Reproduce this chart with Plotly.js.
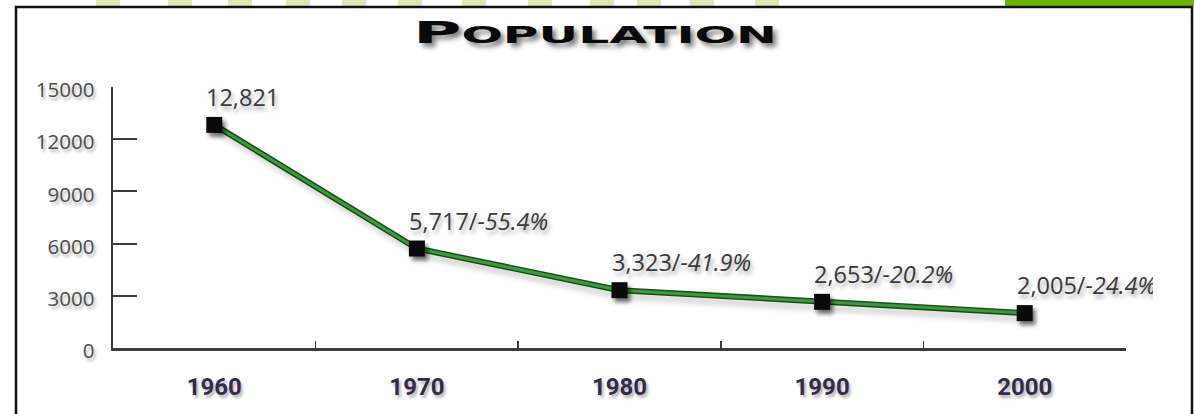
<!DOCTYPE html>
<html>
<head>
<meta charset="utf-8">
<script src="https://cdn.plot.ly/plotly-3.0.1.min.js"></script>
<style>
  html, body { margin: 0; padding: 0; background: #ffffff; }
  #chart { width: 1194px; height: 414px; }
  .scatterlayer .trace:last-child .js-line { filter: drop-shadow(4px 6px 3px rgba(0,0,0,0.35)); }
  .scatterlayer .points path { filter: drop-shadow(3px 4px 2px rgba(0,0,0,0.55)); }
</style>
</head>
<body>
<div id="chart"></div>
<script>
// ---- data ----
const years = ['1960', '1970', '1980', '1990', '2000'];
const population = [12821, 5717, 3323, 2653, 2005];
const changeLabels = ['', '-55.4%', '-41.9%', '-20.2%', '-24.4%'];
const yTickValues = [0, 3000, 6000, 9000, 12000, 15000];
const yTickLabels = ['0', '3000', '6000', '9000', '12000', '15000'];
const titleText = 'P<span style="font-size:23px">OPULATION</span>';

// ---- layout geometry ----
const W = 1194, H = 414;
const M = { l: 113, r: 68, t: 87, b: 66 };
const pw = W - M.l - M.r, ph = H - M.t - M.b;
const px = v => (v - M.l) / pw;
const py = v => (H - M.b - v) / ph;

const shapes = [];
// decorative light-green blocks along the top edge
const deco = [96, 168, 228, 286, 342, 398, 462, 528, 590, 637, 690, 755];
deco.forEach(x => shapes.push({
  type: 'rect', xref: 'paper', yref: 'paper',
  x0: px(x), x1: px(x + 24), y0: py(6), y1: py(0),
  line: { width: 0 }, fillcolor: 'rgba(190,215,120,0.55)', layer: 'below'
}));
// solid green strip top-right
shapes.push({
  type: 'rect', xref: 'paper', yref: 'paper',
  x0: px(1005), x1: px(1196), y0: py(6), y1: py(-2),
  line: { width: 0 }, fillcolor: '#6cb40a', layer: 'below'
});
// black frame
shapes.push({
  type: 'rect', xref: 'paper', yref: 'paper',
  x0: px(16), x1: px(1192), y0: py(440), y1: py(7),
  line: { width: 2.5, color: '#111111' }, fillcolor: 'rgba(0,0,0,0)', layer: 'below'
});

const annotations = years.map((yr, i) => {
  const num = population[i].toLocaleString('en-US');
  const txt = changeLabels[i] ? num + '/<i>' + changeLabels[i] + '</i>' : num;
  const a = {
    x: i, y: population[i], xref: 'x', yref: 'y',
    text: txt, showarrow: false,
    xanchor: 'left', yanchor: 'middle', align: 'left',
    xshift: -10, yshift: 28,
    font: { family: 'Open Sans, sans-serif', size: 23.5, color: '#3a3a3a',
            shadow: '2px 4px 4px rgba(0,0,0,0.35)' }
  };
  if (i === years.length - 1) a.width = 136;
  return a;
});

const traces = [
  { x: years, y: population, type: 'scatter', mode: 'lines',
    line: { color: '#1b521b', width: 6 }, hoverinfo: 'skip', showlegend: false },
  { x: years, y: population, type: 'scatter', mode: 'lines+markers',
    line: { color: '#3c9a3c', width: 3 },
    marker: { symbol: 'square', size: 16, color: '#0a0a0a', line: { width: 0 } },
    showlegend: false, cliponaxis: false }
];

const layout = {
  width: W, height: H,
  margin: M,
  paper_bgcolor: '#ffffff', plot_bgcolor: '#ffffff',
  showlegend: false,
  title: {
    text: titleText,
    font: { family: 'DejaVu Sans, sans-serif', size: 31, color: '#0a0a0a', weight: 700,
            shadow: '3px 7px 6px rgba(0,0,0,0.5)' },
    xref: 'container', yref: 'container',
    x: 595 / W, xanchor: 'center',
    y: 1 - 43 / H, yanchor: 'bottom'
  },
  xaxis: {
    type: 'category', range: [-0.5, 4.5],
    showgrid: false, zeroline: false,
    showline: true, linecolor: '#3c3c3c', linewidth: 2.5,
    ticks: 'inside', tickson: 'boundaries', ticklen: 7, tickwidth: 1.5, tickcolor: '#3c3c3c',
    ticklabelstandoff: 16,
    tickfont: { family: 'Roboto, sans-serif', size: 24, color: '#342b4f', weight: 700,
                shadow: '2px 3px 3px rgba(0,0,0,0.3)' },
    fixedrange: true
  },
  yaxis: {
    range: [0, 15000],
    tickvals: yTickValues, ticktext: yTickLabels,
    showgrid: false, zeroline: false,
    showline: true, linecolor: '#3c3c3c', linewidth: 2.5,
    ticks: 'inside', ticklen: 24, tickwidth: 2, tickcolor: '#3c3c3c',
    ticklabelstandoff: 12, ticklabelshift: 3,
    tickfont: { family: 'Open Sans, sans-serif', size: 20.5, color: '#4d4d4d',
                shadow: '2px 3px 3px rgba(0,0,0,0.3)' },
    fixedrange: true
  },
  shapes: shapes,
  annotations: annotations
};

Plotly.newPlot('chart', traces, layout, { displayModeBar: false, staticPlot: true }).then(gd => {
  const t = gd.querySelector('.gtitle');
  if (t) {
    const bb = t.getBBox();
    const cx = bb.x + bb.width / 2;
    const prev = t.getAttribute('transform') || '';
    t.setAttribute('transform', prev + ' translate(' + cx + ',0) scale(2.12,1) translate(' + (-cx) + ',0)');
  }
});
</script>
</body>
</html>
